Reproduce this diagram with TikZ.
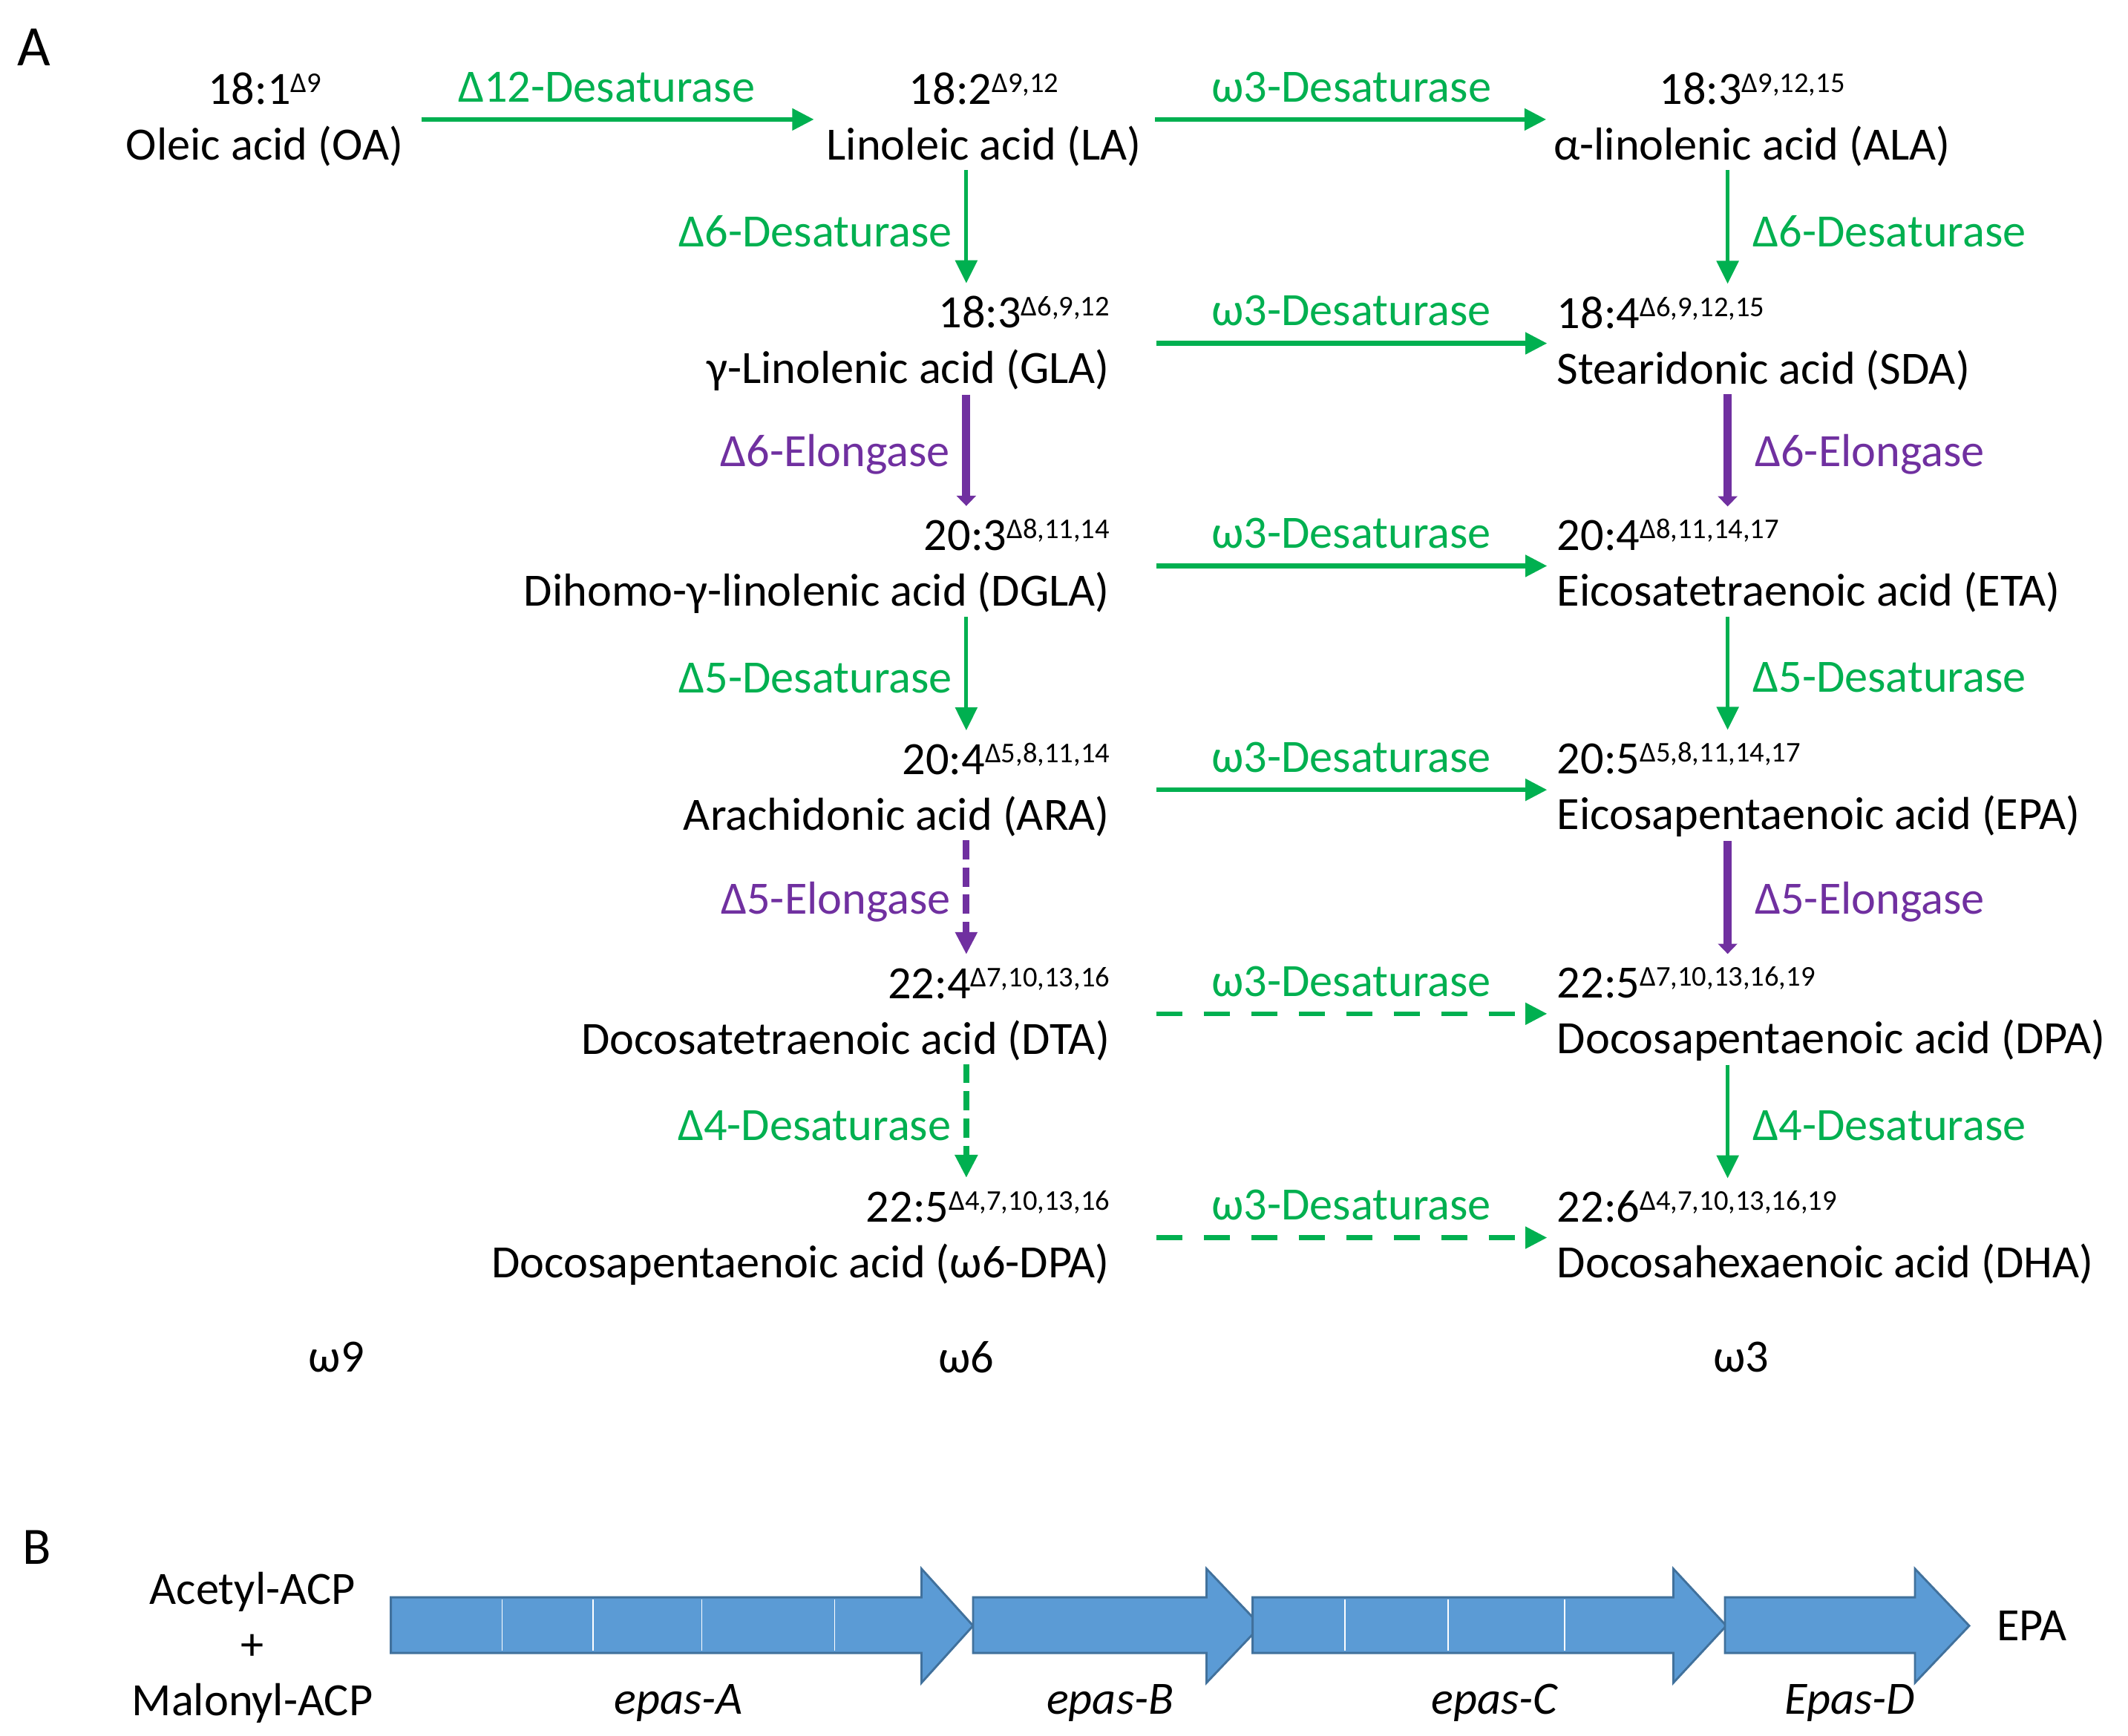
\documentclass[tikz,border=0pt]{standalone}
\usepackage{fontspec}
\setmainfont{Carlito}
\usepackage{xcolor}
\usepackage{tikz}
\usetikzlibrary{arrows.meta, positioning, calc}

\definecolor{desatgreen}{HTML}{00B050}
\definecolor{elopurple}{HTML}{7030A0}
\definecolor{geneblue}{HTML}{5B9BD5}
\definecolor{geneedge}{HTML}{41719C}

% double bond positions as raised index
\newcommand{\dbonds}[1]{\raisebox{5pt}{\fontsize{12}{12}\selectfont #1}}

\begin{document}
\begin{tikzpicture}[x=0.2mm, y=-0.2mm,
    every node/.style={font=\fontsize{19.4}{23.3}\selectfont, inner sep=0pt},
    acid/.style={align=center},
    acidsix/.style={anchor=east, align=right},
    acidthree/.style={anchor=west, align=left},
    desat/.style={draw=desatgreen, line width=0.7mm, -{Triangle[length=3.2mm, width=3.1mm]}},
    desatdown/.style={draw=desatgreen, line width=0.55mm, -{Triangle[length=3.4mm, width=3.2mm]}, shorten <=0.5mm, shorten >=1.8mm},
    elong/.style={draw=elopurple, line width=1.2mm, -{Triangle[length=1.5mm, width=2.8mm]}, shorten <=0.5mm, shorten >=1.8mm},
    elongdash/.style={draw=elopurple, line width=1mm, -{Triangle[length=3.3mm, width=3.1mm]}, shorten <=0.5mm, shorten >=1.8mm},
    vdash/.style={dash pattern=on 2.8mm off 1.2mm},
    hdash/.style={dash pattern=on 3.8mm off 3.2mm},
    hlabel/.style={above=2.2mm, text=desatgreen},
    labsix/.style={left=1.8mm},
    labthree/.style={right=3.4mm},
    gene/.style={fill=geneblue, draw=geneedge, line width=0.9pt, line join=miter},
    genename/.style={anchor=base, font=\fontsize{19.4}{23.3}\selectfont\itshape}
]
    \useasboundingbox (0,0) rectangle (1568,1279);

    % Panel A: the omega-9, omega-6 and omega-3 routes
    \node[font=\fontsize{24}{24}\selectfont] (pa) at (25,35) {A};

    \coordinate (colsix) at (712,0);
    \coordinate (colthree) at (1273,0);

    % Fatty acids
    \node[acid] (oa) at (195,88) {18:1\dbonds{Δ9}\\Oleic acid (OA)};
    \node[acid] (la) at (725,88) {18:2\dbonds{Δ9,12}\\Linoleic acid (LA)};
    \node[acid] (ala) at (1291,88) {18:3\dbonds{Δ9,12,15}\\α-linolenic acid (ALA)};

    \node[acidsix] (gla) at (818,253) {18:3\dbonds{Δ6,9,12}\\γ-Linolenic acid (GLA)};
    \node[acidthree] (sda) at (1147,253) {18:4\dbonds{Δ6,9,12,15}\\Stearidonic acid (SDA)};

    \node[acidsix] (dgla) at (818,417) {20:3\dbonds{Δ8,11,14}\\Dihomo-γ-linolenic acid (DGLA)};
    \node[acidthree] (eta) at (1147,417) {20:4\dbonds{Δ8,11,14,17}\\Eicosatetraenoic acid (ETA)};

    \node[acidsix] (ara) at (818,582) {20:4\dbonds{Δ5,8,11,14}\\Arachidonic acid (ARA)};
    \node[acidthree] (epa) at (1147,582) {20:5\dbonds{Δ5,8,11,14,17}\\Eicosapentaenoic acid (EPA)};

    \node[acidsix] (dta) at (818,747) {22:4\dbonds{Δ7,10,13,16}\\Docosatetraenoic acid (DTA)};
    \node[acidthree] (dpa) at (1147,747) {22:5\dbonds{Δ7,10,13,16,19}\\Docosapentaenoic acid (DPA)};

    \node[acidsix] (wdpa) at (818,912) {22:5\dbonds{Δ4,7,10,13,16}\\Docosapentaenoic acid (ω6-DPA)};
    \node[acidthree] (dha) at (1147,912) {22:6\dbonds{Δ4,7,10,13,16,19}\\Docosahexaenoic acid (DHA)};

    % Series names
    \node (omnine) at (248,1000) {ω9};
    \node (omsix) at (712,1000) {ω6};
    \node (omthree) at (1283,1000) {ω3};

    % Desaturation steps (horizontal)
    \draw[desat, shorten <=2.6mm, shorten >=1.8mm] (oa) -- node[hlabel, pos=0.48] {Δ12-Desaturase} (la);
    \draw[desat, shorten <=2mm, shorten >=1mm] (la) -- node[hlabel, pos=0.51] {ω3-Desaturase} (ala);
    \foreach \six/\three in {gla/sda, dgla/eta, ara/epa}
        \draw[desat, shorten <=6.8mm, shorten >=1.4mm] (\six) -- node[hlabel, pos=0.54] {ω3-Desaturase} (\three);
    \foreach \six/\three in {dta/dpa, wdpa/dha}
        \draw[desat, hdash, shorten <=6.8mm, shorten >=1.4mm] (\six) -- node[hlabel, pos=0.54] {ω3-Desaturase} (\three);

    % Omega-6 column (vertical)
    \draw[desatdown] (la.south -| colsix) -- node[labsix, text=desatgreen] {Δ6-Desaturase} (gla.north -| colsix);
    \draw[elong] (gla.south -| colsix) -- node[labsix, text=elopurple] {Δ6-Elongase} (dgla.north -| colsix);
    \draw[desatdown] (dgla.south -| colsix) -- node[labsix, text=desatgreen] {Δ5-Desaturase} (ara.north -| colsix);
    \draw[elongdash, vdash] (ara.south -| colsix) -- node[labsix, text=elopurple] {Δ5-Elongase} (dta.north -| colsix);
    \draw[desatdown, vdash, line width=0.9mm] (dta.south -| colsix) -- node[labsix, text=desatgreen] {Δ4-Desaturase} (wdpa.north -| colsix);

    % Omega-3 column (vertical)
    \draw[desatdown] (ala.south -| colthree) -- node[labthree, text=desatgreen] {Δ6-Desaturase} (sda.north -| colthree);
    \draw[elong] (sda.south -| colthree) -- node[labthree, text=elopurple] {Δ6-Elongase} (eta.north -| colthree);
    \draw[desatdown] (eta.south -| colthree) -- node[labthree, text=desatgreen] {Δ5-Desaturase} (epa.north -| colthree);
    \draw[elong] (epa.south -| colthree) -- node[labthree, text=elopurple] {Δ5-Elongase} (dpa.north -| colthree);
    \draw[desatdown] (dpa.south -| colthree) -- node[labthree, text=desatgreen] {Δ4-Desaturase} (dha.north -| colthree);

    % Panel B: the PKS gene cluster
    \node[font=\fontsize{22}{22}\selectfont] (pb) at (27,1140) {B};
    \node[align=center] (acp) at (186,1214) {Acetyl-ACP\\+\\Malonyl-ACP};

    \foreach \xs/\xb/\xt in {288/679/717, 717/889/929, 923/1233/1272, 1271/1411/1451}
        \draw[gene] (\xs,1177) -- (\xb,1177) -- (\xb,1156) -- (\xt,1198) -- (\xb,1240) -- (\xb,1218) -- (\xs,1218) -- cycle;
    \foreach \x in {370, 437, 517, 615, 991, 1067, 1153}
        \draw[white, line width=0.5pt] (\x,1178.5) -- (\x,1216.5);

    \node (epaout) at (1497,1198) {EPA};
    \node[genename] (epasa) at (500,1263) {epas-A};
    \node[genename] (epasb) at (818,1263) {epas-B};
    \node[genename] (epasc) at (1101,1263) {epas-C};
    \node[genename] (epasd) at (1363,1263) {Epas-D};
\end{tikzpicture}
\end{document}
